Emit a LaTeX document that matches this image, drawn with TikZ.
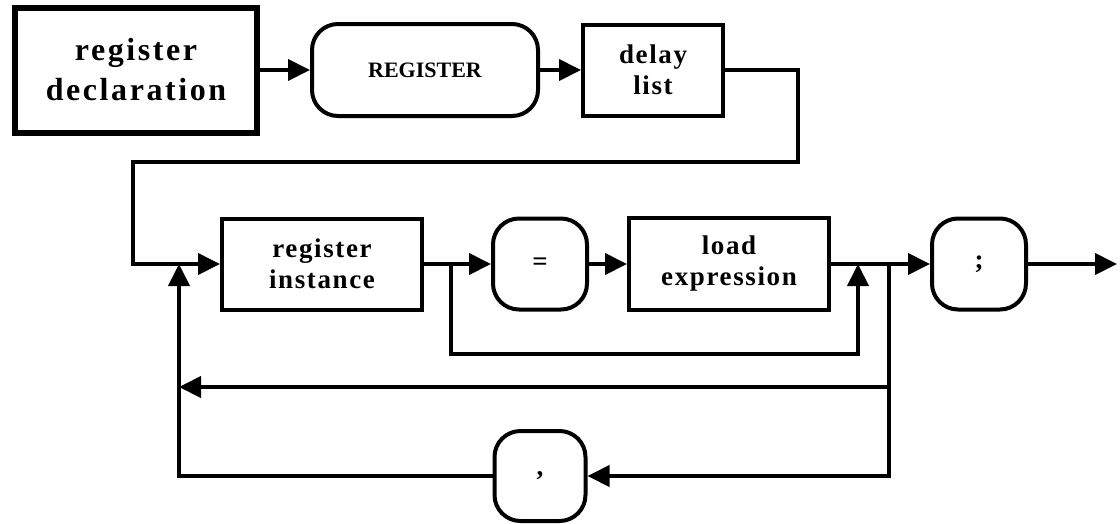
\documentclass[tikz,border=0pt]{standalone}
\usepackage{fontspec}
\setmainfont{Liberation Serif}
\newfontfamily\bigsp[LetterSpace=8]{Liberation Serif}
\newfontfamily\smsp[LetterSpace=6]{Liberation Serif}
\usetikzlibrary{arrows.meta}
\begin{document}
\begin{tikzpicture}[x=1pt,y=-1pt,
  line width=4pt,
  sq/.style={draw, rectangle, inner sep=0pt, align=center, line width=4pt,
    font=\smsp\bfseries\fontsize{27}{31}\selectfont},
  rnd/.style={sq, rounded corners=26pt},
  arr/.style={-{Triangle[length=22pt,width=21pt]}}]
\path[use as bounding box] (0,0) rectangle (1120,523);

% top row
\node[sq, line width=6pt, minimum width=242pt, minimum height=125pt,
  font=\bigsp\bfseries\fontsize{32}{40}\selectfont] (decl) at (136,70) {register\\declaration};
\node[rnd, minimum width=226pt, minimum height=92pt,
  font=\bfseries\fontsize{22}{25}\selectfont] (reg) at (425,70) {REGISTER};
\node[sq, minimum width=140pt, minimum height=91pt] (delay) at (653,70) {delay\\list};

% main row
\node[sq, minimum width=200pt, minimum height=91pt] (inst) at (322,264) {register\\instance};
\node[rnd, minimum width=94pt, minimum height=91pt] (eq) at (540,264) {=};
\node[sq, minimum width=200pt, minimum height=92pt] (load) at (729,264) {load\\expression};
\node[rnd, minimum width=94pt, minimum height=91pt] (semi) at (979,264) {;};

% comma
\node[rnd, minimum width=91pt, minimum height=90pt] (comma) at (540,476) {,};

% coordinates
\coordinate (exit) at (1117,264);
\coordinate (b1) at (451,264);
\coordinate (j1) at (858,264);
\coordinate (b2) at (889,264);
\coordinate (m1) at (889,387);
\coordinate (m2) at (179,387);
\coordinate (j2) at (179,264);

% connectors
\draw[arr] (decl) -- (reg);
\draw[arr] (reg) -- (delay);
\draw[arr] (delay.east) -- (798,70) -- (798,162) -- (133,162) -- (133,264) -- (inst.west);
\draw[arr] (inst) -- (eq);
\draw[arr] (eq) -- (load);
\draw[arr] (load) -- (semi);
\draw[arr] (semi) -- (exit);
\draw[arr] (b1) -- (451,354) -- (858,354) -- (j1);
\draw[arr] (b2) -- (889,476) -- (comma.east);
\draw[arr] (m1) -- (m2);
\draw[arr] (comma.west) -- (179,476) -- (j2);
\end{tikzpicture}
\end{document}
